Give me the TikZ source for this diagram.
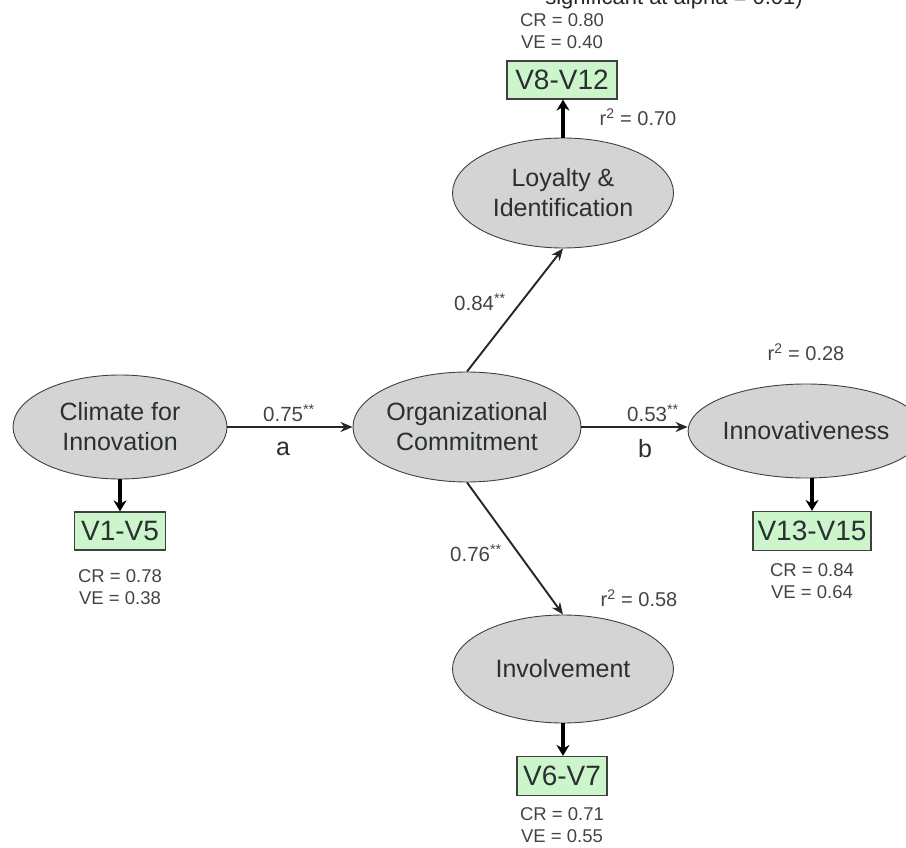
\documentclass[tikz,border=0pt]{standalone}
\usepackage{fontspec}
\setmainfont{Liberation Sans}
\usetikzlibrary{shapes.geometric,arrows.meta}
\definecolor{ellfill}{HTML}{D4D4D4}
\definecolor{boxfill}{HTML}{CCF5CC}
\definecolor{txt}{HTML}{2A3030}
\definecolor{lbl}{HTML}{444444}
\tikzset{
  latent/.style={ellipse, draw=black!75, line width=0.9pt, fill=ellfill, inner sep=0pt, align=center, text=txt, font=\fontsize{25}{30}\selectfont},
  manifest/.style={rectangle, draw=black!75, line width=1.2pt, fill=boxfill, inner sep=0pt, text=txt, font=\fontsize{28}{32}\selectfont},
  stat/.style={text=lbl, font=\fontsize{18.5}{22}\selectfont, align=center, inner sep=0pt},
  coef/.style={text=lbl, font=\fontsize{20.5}{24}\selectfont, inner sep=0pt},
  pathlbl/.style={text=txt, font=\fontsize{25}{28}\selectfont, inner sep=0pt},
  rsq/.style={text=lbl, font=\fontsize{20}{24}\selectfont, inner sep=0pt},
  arr/.style={draw=black!85, line width=1.9pt, -{Stealth[length=12pt,width=10pt]}},
  thickarr/.style={draw=black, line width=3.2pt, -{Stealth[length=11pt,width=13pt]}},
}
\begin{document}
\begin{tikzpicture}[x=1pt,y=-1pt]
\useasboundingbox (0,0) rectangle (906,848);
\begin{scope}
\clip (0,0) rectangle (906,848);
\node[anchor=base east, text=black!85, font=\fontsize{22}{26}\selectfont, inner sep=0pt] (note) at (803,5) {significant at alpha = 0.01)};
\end{scope}

% latent variables
\node[latent, minimum width=214pt, minimum height=104pt] (clim) at (120,427) {Climate for\\Innovation};
\node[latent, minimum width=220pt, minimum height=110pt] (org) at (467,427) {Organizational\\Commitment};
\node[latent, minimum width=196pt, minimum height=94pt] (innov) at (806,431) {Innovativeness};
\node[latent, minimum width=221pt, minimum height=110pt] (loy) at (563,193) {Loyalty \&\\Identification};
\node[latent, minimum width=221pt, minimum height=108pt] (inv) at (563,669) {Involvement};

% manifest boxes
\node[manifest, minimum width=110pt, minimum height=38pt] (v812) at (562,80) {V8-V12};
\node[manifest, minimum width=91pt, minimum height=38pt] (v15) at (120,531) {V1-V5};
\node[manifest, minimum width=118pt, minimum height=39pt] (v1315) at (812,531) {V13-V15};
\node[manifest, minimum width=90pt, minimum height=39pt] (v67) at (562,776) {V6-V7};

% structural paths
\draw[arr] (clim.east) -- (org.west);
\draw[arr] (org.east) -- (org.east -| innov.west);
\draw[arr] (org.north) -- (loy.south);
\draw[arr] (org.south) -- (inv.north);

% measurement arrows
\draw[thickarr] (clim.south) -- (v15.north);
\draw[thickarr] (innov.south -| v1315.north) -- (v1315.north);
\draw[thickarr] (inv.south) -- (inv.south |- v67.north);
\draw[thickarr] (loy.north) -- (loy.north |- v812.south);

% coefficients
\node[coef] (c1) at (289,413) {0.75\textsuperscript{**}};
\node[pathlbl] (la) at (283,449) {a};
\node[coef] (c2) at (653,413) {0.53\textsuperscript{**}};
\node[pathlbl] (lb) at (645,449) {b};
\node[coef] (c3) at (480,302) {0.84\textsuperscript{**}};
\node[coef] (c4) at (476,553) {0.76\textsuperscript{**}};

% r squared
\node[rsq] (r1) at (638,117) {r\textsuperscript{2} = 0.70};
\node[rsq] (r2) at (806,352) {r\textsuperscript{2} = 0.28};
\node[rsq] (r3) at (639,598) {r\textsuperscript{2} = 0.58};

% reliability
\node[stat] (s1) at (562,31) {CR = 0.80\\VE = 0.40};
\node[stat] (s2) at (120,587) {CR = 0.78\\VE = 0.38};
\node[stat] (s3) at (812,581) {CR = 0.84\\VE = 0.64};
\node[stat] (s4) at (562,825) {CR = 0.71\\VE = 0.55};
\end{tikzpicture}
\end{document}
